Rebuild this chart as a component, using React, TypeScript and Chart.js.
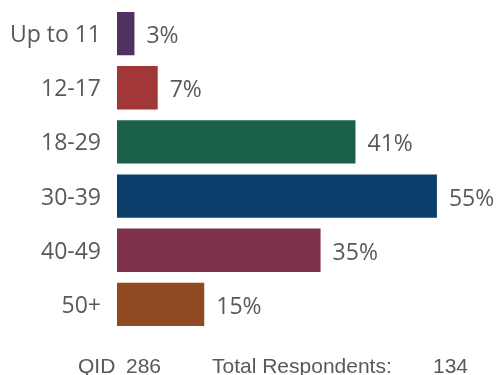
import React, { useEffect, useRef } from "react";
import { Chart, registerables } from "chart.js";

Chart.register(...registerables);

const categories = ["Up to 11", "12-17", "18-29", "30-39", "40-49", "50+"];
const values = [3, 7, 41, 55, 35, 15];
const barColors = ["#4F3262", "#A33638", "#1B604B", "#0B3F6B", "#80314A", "#8F4A21"];
const valueLabels = ["3%", "7%", "41%", "55%", "35%", "15%"];
const footerItems = [
  { text: "QID", x: 78 },
  { text: "286", x: 126 },
  { text: "Total Respondents:", x: 212 },
  { text: "134", x: 433 },
];

const LABEL_FONT = "23px 'Open Sans'";
const TEXT_COLOR = "#595959";

export default function App() {
  const ref = useRef<HTMLCanvasElement | null>(null);

  useEffect(() => {
    if (!ref.current) return;
    const valuePlugin = {
      id: "valueLabels",
      afterDatasetsDraw(chart: any) {
        const ctx = chart.ctx;
        const meta = chart.getDatasetMeta(0);
        ctx.save();
        ctx.font = LABEL_FONT;
        ctx.fillStyle = TEXT_COLOR;
        ctx.textAlign = "left";
        ctx.textBaseline = "middle";
        meta.data.forEach((el: any, i: number) => {
          ctx.fillText(valueLabels[i], el.x + 12, el.y + 3);
        });
        ctx.restore();
      },
      afterDraw(chart: any) {
        const ctx = chart.ctx;
        ctx.save();
        ctx.font = "21px 'Liberation Sans'";
        ctx.fillStyle = TEXT_COLOR;
        ctx.textAlign = "left";
        ctx.textBaseline = "alphabetic";
        footerItems.forEach((f) => ctx.fillText(f.text, f.x, 373));
        ctx.restore();
      },
    };

    const chart = new Chart(ref.current, {
      type: "bar",
      data: {
        labels: categories,
        datasets: [
          {
            data: values,
            backgroundColor: barColors,
            borderWidth: 0,
            categoryPercentage: 1,
            barPercentage: 0.8,
          },
        ],
      },
      options: {
        indexAxis: "y",
        animation: false,
        responsive: false,
        layout: { padding: { top: 6.5, bottom: 43.5, right: 32, left: 0 } },
        plugins: { legend: { display: false }, tooltip: { enabled: false } },
        scales: {
          x: { display: false, min: 0, max: 60 },
          y: {
            grid: { display: false, drawTicks: false },
            border: { display: false },
            ticks: {
              padding: 16,
              labelOffset: 2,
              color: TEXT_COLOR,
              font: { family: "'Open Sans'", size: 23 },
            },
            afterFit: (scale: any) => {
              scale.width = 117;
              scale.paddingTop = 0;
              scale.paddingBottom = 0;
            },
          },
        },
      },
      plugins: [valuePlugin],
    });
    return () => chart.destroy();
  }, []);

  return (
    <canvas
      ref={ref}
      width={498}
      height={375}
      style={{ position: "fixed", left: 0, top: 0, width: 498, height: 375, display: "block" }}
    />
  );
}
